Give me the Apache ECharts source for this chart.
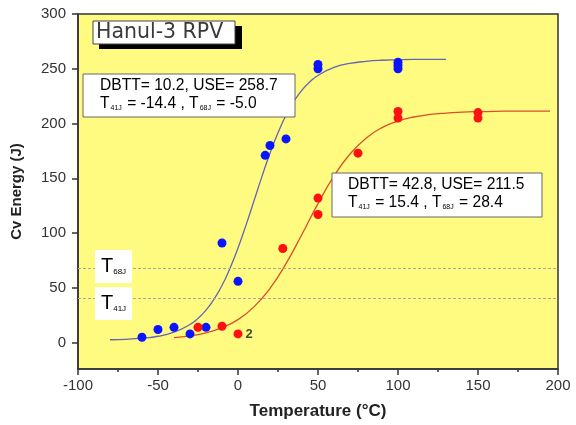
<!DOCTYPE html>
<html>
<head>
<meta charset="utf-8">
<script src="https://cdn.jsdelivr.net/npm/echarts@6/dist/echarts.min.js"></script>
<style>html,body{margin:0;padding:0;background:#fff;}#c{width:576px;height:425px;}</style>
</head>
<body>
<div id="c"></div>
<script>
// ---- data ----
var xTicks = [-100, -50, 0, 50, 100, 150, 200];
var yTicks = [0, 50, 100, 150, 200, 250, 300];
var blueT = [-60, -50, -40, -30, -20, -10, 0, 17, 20, 30, 50, 50, 100, 100, 100];
var blueE = [5, 12, 14, 8, 14, 91, 56, 171, 180, 186, 250, 254, 250, 253, 256];
var redT = [-25, -10, 0, 28, 50, 50, 75, 100, 100, 150, 150];
var redE = [14, 15, 8, 86, 117, 132, 173, 205, 211, 205, 210];
var redLabelIndex = 2; // point tagged "2"
var blueFitT = [-80, -70, -60, -50, -40, -30, -25, -20, -15, -10, -5, 0, 5, 10, 15, 20, 25, 30, 35, 40, 45, 50, 60, 70, 80, 90, 100, 110, 120, 130];
var blueFitE = [2.7, 3.1, 4.1, 5.9, 9.6, 16.6, 22.2, 29.7, 39.6, 52.2, 67.9, 86.4, 107.3, 129.5, 151.8, 172.9, 191.6, 207.6, 220.4, 230.6, 238.2, 243.9, 251.2, 254.9, 256.8, 257.8, 258.2, 258.5, 258.6, 258.6];
var redFitT = [-40, -30, -20, -10, 0, 10, 20, 30, 40, 50, 60, 70, 80, 90, 100, 110, 120, 130, 140, 150, 160, 170, 180, 195];
var redFitE = [4.6, 6.2, 9.0, 13.7, 21.1, 32.7, 49.6, 72.1, 99.0, 126.9, 152.2, 172.2, 186.7, 196.3, 202.3, 206.0, 208.3, 209.6, 210.4, 210.9, 211.2, 211.3, 211.4, 211.4];
var refLevels = [68, 41];
var titleText = 'Hanul-3 RPV';
var blueNote = ['DBTT= 10.2, USE= 258.7', '-14.4', '-5.0'];
var redNote = ['DBTT= 42.8, USE= 211.5', '15.4', '28.4'];

function pairs(xs, ys) { return xs.map(function (x, i) { return [x, ys[i]]; }); }

var FONT = 'Liberation Sans, Arial, sans-serif';
var chart = echarts.init(document.getElementById('c'), null, {renderer: 'canvas'});

var redData = pairs(redT, redE).map(function (p, i) {
  if (i === redLabelIndex) {
    return {value: p, label: {show: true, formatter: '2', position: 'right', distance: 3,
      color: '#4a4a30', fontSize: 13, fontWeight: 'bold', fontFamily: FONT}};
  }
  return p;
});

function noteText(lines) {
  return '{n|' + lines[0] + '}\n{n|T}{s|41J}{n| = ' + lines[1] + ' , T}{s|68J}{n| = ' + lines[2] + '}';
}
var noteRich = {
  n: {fontSize: 15.6, fontFamily: FONT, color: '#222', lineHeight: 18},
  s: {fontSize: 7, fontFamily: FONT, color: '#555', lineHeight: 18, padding: [9, 1, 0, 1]}
};

var option = {
  animation: false,
  backgroundColor: '#ffffff',
  grid: {left: 78, right: 18, top: 14, bottom: 56, show: true, backgroundColor: '#FFFB80', borderColor: '#333', borderWidth: 1.5},
  xAxis: {
    type: 'value', min: xTicks[0], max: xTicks[xTicks.length - 1], interval: 50,
    name: 'Temperature (°C)', nameLocation: 'middle', nameGap: 34,
    nameTextStyle: {fontSize: 17, fontWeight: 'bold', color: '#222', fontFamily: FONT},
    axisLine: {onZero: false, lineStyle: {color: '#333', width: 1.5}},
    axisTick: {show: true, inside: false, length: 6, lineStyle: {color: '#333', width: 1.5}},
    minorTick: {show: true, splitNumber: 2, length: 3, lineStyle: {color: '#333', width: 1.5}},
    axisLabel: {fontSize: 15, color: '#333', fontFamily: FONT, margin: 9},
    splitLine: {show: false}
  },
  yAxis: {
    type: 'value', min: -24, max: 300,
    name: 'Cv Energy (J)', nameLocation: 'middle', nameGap: 54, nameRotate: 90,
    nameTextStyle: {fontSize: 15, fontWeight: 'bold', color: '#222', fontFamily: FONT},
    axisLine: {onZero: false, lineStyle: {color: '#333', width: 1.5}},
    axisTick: {show: true, length: 6, customValues: yTicks, lineStyle: {color: '#333', width: 1.5}},
    axisLabel: {fontSize: 15, color: '#333', fontFamily: FONT, margin: 12, customValues: yTicks},
    splitLine: {show: false}
  },
  series: [
    {type: 'line', data: pairs(blueFitT, blueFitE), smooth: true, showSymbol: false, silent: true,
      lineStyle: {color: '#6464b4', width: 1.3}, z: 2,
      markLine: {silent: true, symbol: 'none', label: {show: false},
        lineStyle: {color: '#a8a898', type: [3, 2], width: 1},
        data: refLevels.map(function (v) { return {yAxis: v}; })}},
    {type: 'line', data: pairs(redFitT, redFitE), smooth: true, showSymbol: false, silent: true,
      lineStyle: {color: '#d8502a', width: 1.3}, z: 2},
    {type: 'scatter', data: pairs(blueT, blueE), symbol: 'circle', symbolSize: 9,
      itemStyle: {color: '#0a14ff', opacity: 1}, z: 3},
    {type: 'scatter', data: redData, symbol: 'circle', symbolSize: 9,
      itemStyle: {color: '#ff1010', opacity: 1}, z: 3}
  ],
  graphic: [
    {type: 'rect', shape: {x: 99, y: 26, width: 143, height: 23}, style: {fill: '#000'}, z: 10},
    {type: 'rect', shape: {x: 93, y: 21, width: 142, height: 23}, style: {fill: '#fff', stroke: '#444', lineWidth: 1}, z: 11},
    {type: 'text', x: 96, y: 33, style: {text: titleText, font: '20.5px "DejaVu Sans"', fill: '#3a3a3a', textVerticalAlign: 'middle'}, z: 12},

    {type: 'rect', shape: {x: 83, y: 74, width: 212, height: 43}, style: {fill: '#fff', stroke: '#666', lineWidth: 1}, z: 10},
    {type: 'text', x: 100, y: 77, style: {text: noteText(blueNote), rich: noteRich}, z: 12},

    {type: 'rect', shape: {x: 332, y: 173, width: 210, height: 44}, style: {fill: '#fff', stroke: '#666', lineWidth: 1}, z: 10},
    {type: 'text', x: 348, y: 176, style: {text: noteText(redNote), rich: noteRich}, z: 12},

    {type: 'rect', shape: {x: 95, y: 250, width: 37, height: 33}, style: {fill: '#fff'}, z: 10},
    {type: 'text', x: 101, y: 254, style: {text: '{t|T}{s|68J}', rich: {t: {fontSize: 20, fontFamily: FONT, color: '#222', lineHeight: 24}, s: {fontSize: 8, fontFamily: FONT, color: '#666', lineHeight: 24, padding: [12, 0, 0, 0]}}}, z: 12},
    {type: 'rect', shape: {x: 95, y: 287, width: 37, height: 33}, style: {fill: '#fff'}, z: 10},
    {type: 'text', x: 101, y: 291, style: {text: '{t|T}{s|41J}', rich: {t: {fontSize: 20, fontFamily: FONT, color: '#222', lineHeight: 24}, s: {fontSize: 8, fontFamily: FONT, color: '#666', lineHeight: 24, padding: [12, 0, 0, 0]}}}, z: 12}
  ]
};
chart.setOption(option);
</script>
</body>
</html>
